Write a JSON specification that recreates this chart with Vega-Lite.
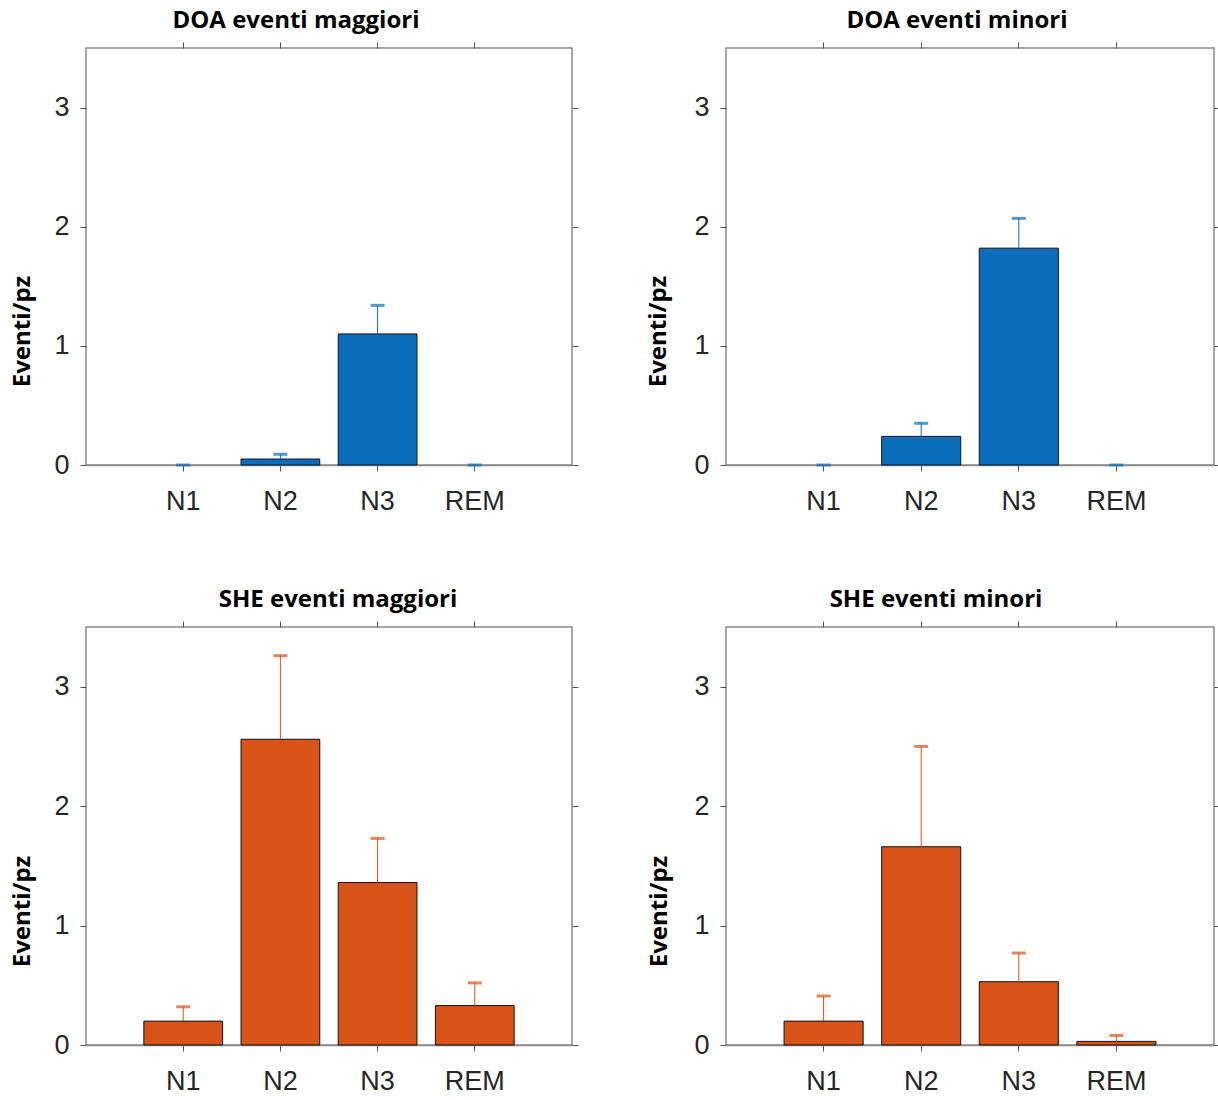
{
  "$schema": "https://vega.github.io/schema/vega-lite/v6.json",
  "background": "white",
  "padding": {"left": 9, "top": 7, "right": 0, "bottom": 0},
  "bounds": "flush",
  "spacing": {"row": 162, "column": 154},
  "columns": 2,
  "data": {
    "values": [
      {"panel": "DOA eventi maggiori", "group": "DOA", "stage": "N1", "mean": 0.0, "upper": 0.0},
      {"panel": "DOA eventi maggiori", "group": "DOA", "stage": "N2", "mean": 0.05, "upper": 0.09},
      {"panel": "DOA eventi maggiori", "group": "DOA", "stage": "N3", "mean": 1.10, "upper": 1.34},
      {"panel": "DOA eventi maggiori", "group": "DOA", "stage": "REM", "mean": 0.0, "upper": 0.0},
      {"panel": "DOA eventi minori", "group": "DOA", "stage": "N1", "mean": 0.0, "upper": 0.0},
      {"panel": "DOA eventi minori", "group": "DOA", "stage": "N2", "mean": 0.24, "upper": 0.35},
      {"panel": "DOA eventi minori", "group": "DOA", "stage": "N3", "mean": 1.82, "upper": 2.07},
      {"panel": "DOA eventi minori", "group": "DOA", "stage": "REM", "mean": 0.0, "upper": 0.0},
      {"panel": "SHE eventi maggiori", "group": "SHE", "stage": "N1", "mean": 0.20, "upper": 0.32},
      {"panel": "SHE eventi maggiori", "group": "SHE", "stage": "N2", "mean": 2.56, "upper": 3.26},
      {"panel": "SHE eventi maggiori", "group": "SHE", "stage": "N3", "mean": 1.36, "upper": 1.73},
      {"panel": "SHE eventi maggiori", "group": "SHE", "stage": "REM", "mean": 0.33, "upper": 0.52},
      {"panel": "SHE eventi minori", "group": "SHE", "stage": "N1", "mean": 0.20, "upper": 0.41},
      {"panel": "SHE eventi minori", "group": "SHE", "stage": "N2", "mean": 1.66, "upper": 2.50},
      {"panel": "SHE eventi minori", "group": "SHE", "stage": "N3", "mean": 0.53, "upper": 0.77},
      {"panel": "SHE eventi minori", "group": "SHE", "stage": "REM", "mean": 0.03, "upper": 0.08}
    ]
  },
  "config": {
    "view": {"stroke": "#8a8a8a", "strokeWidth": 1.5},
    "title": {"font": "Open Sans", "fontWeight": "bold", "fontSize": 24, "color": "#000000", "offset": 9, "anchor": "middle"},
    "axis": {
      "domainColor": "#8a8a8a", "domainWidth": 1.5, "tickColor": "#555555", "tickSize": 6, "grid": false,
      "labelFont": "Liberation Sans", "labelFontSize": 27, "labelColor": "#262626",
      "titleFont": "Open Sans", "titleFontWeight": "bold", "titleFontSize": 24, "titleColor": "#000000"
    }
  },
  "concat": [
    {
      "title": {"text": "DOA eventi maggiori", "dx": -33},
      "width": 486, "height": 417,
      "transform": [{"filter": "datum.panel === 'DOA eventi maggiori'"}],
      "resolve": {"axis": {"x": "independent", "y": "independent"}},
      "layer": [
        {"mark": {"type": "bar", "stroke": "#111111", "strokeWidth": 1},
         "transform": [{"filter": "datum.mean > 0"}],
         "encoding": {
           "x": {"field": "stage", "type": "nominal", "scale": {"domain": ["N1", "N2", "N3", "REM"], "paddingInner": 0.19, "paddingOuter": 0.595},
                 "axis": {"orient": "bottom", "title": null, "labelAngle": 0, "labelPadding": 17}},
           "y": {"field": "mean", "type": "quantitative", "scale": {"domain": [0, 3.5], "nice": false},
                 "axis": {"orient": "left", "values": [0, 1, 2, 3], "title": "Eventi/pz", "domain": false, "labelPadding": 11, "titleX": -64, "titleY": 283, "titleBaseline": "middle", "titleAnchor": "middle"}},
           "color": {"field": "group", "type": "nominal", "scale": {"domain": ["DOA", "SHE"], "range": ["#0a6ebd", "#d95319"]}, "legend": null}
         }},
        {"mark": {"type": "rule", "strokeWidth": 1},
         "encoding": {
           "x": {"field": "stage", "type": "nominal", "axis": {"orient": "top", "title": null, "labels": false, "domain": false}},
           "y": {"field": "mean", "type": "quantitative", "axis": {"orient": "right", "values": [0, 1, 2, 3], "title": null, "labels": false, "domain": false}},
           "y2": {"field": "upper"},
           "color": {"field": "group", "type": "nominal", "legend": null}
         }},
        {"mark": {"type": "tick", "size": 14, "thickness": 3},
         "encoding": {
           "x": {"field": "stage", "type": "nominal", "axis": null},
           "y": {"field": "upper", "type": "quantitative", "axis": null},
           "color": {"field": "group", "type": "nominal", "legend": null}
         }}
      ]
    },
    {
      "title": {"text": "DOA eventi minori", "dx": -13},
      "width": 488, "height": 417,
      "transform": [{"filter": "datum.panel === 'DOA eventi minori'"}],
      "resolve": {"axis": {"x": "independent", "y": "independent"}},
      "layer": [
        {"mark": {"type": "bar", "stroke": "#111111", "strokeWidth": 1},
         "transform": [{"filter": "datum.mean > 0"}],
         "encoding": {
           "x": {"field": "stage", "type": "nominal", "scale": {"domain": ["N1", "N2", "N3", "REM"], "paddingInner": 0.19, "paddingOuter": 0.595},
                 "axis": {"orient": "bottom", "title": null, "labelAngle": 0, "labelPadding": 17}},
           "y": {"field": "mean", "type": "quantitative", "scale": {"domain": [0, 3.5], "nice": false},
                 "axis": {"orient": "left", "values": [0, 1, 2, 3], "title": "Eventi/pz", "domain": false, "labelPadding": 11, "titleX": -68, "titleY": 283, "titleBaseline": "middle", "titleAnchor": "middle"}},
           "color": {"field": "group", "type": "nominal", "scale": {"domain": ["DOA", "SHE"], "range": ["#0a6ebd", "#d95319"]}, "legend": null}
         }},
        {"mark": {"type": "rule", "strokeWidth": 1},
         "encoding": {
           "x": {"field": "stage", "type": "nominal", "axis": {"orient": "top", "title": null, "labels": false, "domain": false}},
           "y": {"field": "mean", "type": "quantitative", "axis": {"orient": "right", "values": [0, 1, 2, 3], "title": null, "labels": false, "domain": false}},
           "y2": {"field": "upper"},
           "color": {"field": "group", "type": "nominal", "legend": null}
         }},
        {"mark": {"type": "tick", "size": 14, "thickness": 3},
         "encoding": {
           "x": {"field": "stage", "type": "nominal", "axis": null},
           "y": {"field": "upper", "type": "quantitative", "axis": null},
           "color": {"field": "group", "type": "nominal", "legend": null}
         }}
      ]
    },
    {
      "title": {"text": "SHE eventi maggiori", "dx": 9},
      "width": 486, "height": 418,
      "transform": [{"filter": "datum.panel === 'SHE eventi maggiori'"}],
      "resolve": {"axis": {"x": "independent", "y": "independent"}},
      "layer": [
        {"mark": {"type": "bar", "stroke": "#111111", "strokeWidth": 1},
         "transform": [{"filter": "datum.mean > 0"}],
         "encoding": {
           "x": {"field": "stage", "type": "nominal", "scale": {"domain": ["N1", "N2", "N3", "REM"], "paddingInner": 0.19, "paddingOuter": 0.595},
                 "axis": {"orient": "bottom", "title": null, "labelAngle": 0, "labelPadding": 17}},
           "y": {"field": "mean", "type": "quantitative", "scale": {"domain": [0, 3.5], "nice": false},
                 "axis": {"orient": "left", "values": [0, 1, 2, 3], "title": "Eventi/pz", "domain": false, "labelPadding": 11, "titleX": -64, "titleY": 284, "titleBaseline": "middle", "titleAnchor": "middle"}},
           "color": {"field": "group", "type": "nominal", "scale": {"domain": ["DOA", "SHE"], "range": ["#0a6ebd", "#d95319"]}, "legend": null}
         }},
        {"mark": {"type": "rule", "strokeWidth": 1},
         "encoding": {
           "x": {"field": "stage", "type": "nominal", "axis": {"orient": "top", "title": null, "labels": false, "domain": false}},
           "y": {"field": "mean", "type": "quantitative", "axis": {"orient": "right", "values": [0, 1, 2, 3], "title": null, "labels": false, "domain": false}},
           "y2": {"field": "upper"},
           "color": {"field": "group", "type": "nominal", "legend": null}
         }},
        {"mark": {"type": "tick", "size": 14, "thickness": 3},
         "encoding": {
           "x": {"field": "stage", "type": "nominal", "axis": null},
           "y": {"field": "upper", "type": "quantitative", "axis": null},
           "color": {"field": "group", "type": "nominal", "legend": null}
         }}
      ]
    },
    {
      "title": {"text": "SHE eventi minori", "dx": -34},
      "width": 488, "height": 418,
      "transform": [{"filter": "datum.panel === 'SHE eventi minori'"}],
      "resolve": {"axis": {"x": "independent", "y": "independent"}},
      "layer": [
        {"mark": {"type": "bar", "stroke": "#111111", "strokeWidth": 1},
         "transform": [{"filter": "datum.mean > 0"}],
         "encoding": {
           "x": {"field": "stage", "type": "nominal", "scale": {"domain": ["N1", "N2", "N3", "REM"], "paddingInner": 0.19, "paddingOuter": 0.595},
                 "axis": {"orient": "bottom", "title": null, "labelAngle": 0, "labelPadding": 17}},
           "y": {"field": "mean", "type": "quantitative", "scale": {"domain": [0, 3.5], "nice": false},
                 "axis": {"orient": "left", "values": [0, 1, 2, 3], "title": "Eventi/pz", "domain": false, "labelPadding": 11, "titleX": -67, "titleY": 284, "titleBaseline": "middle", "titleAnchor": "middle"}},
           "color": {"field": "group", "type": "nominal", "scale": {"domain": ["DOA", "SHE"], "range": ["#0a6ebd", "#d95319"]}, "legend": null}
         }},
        {"mark": {"type": "rule", "strokeWidth": 1},
         "encoding": {
           "x": {"field": "stage", "type": "nominal", "axis": {"orient": "top", "title": null, "labels": false, "domain": false}},
           "y": {"field": "mean", "type": "quantitative", "axis": {"orient": "right", "values": [0, 1, 2, 3], "title": null, "labels": false, "domain": false}},
           "y2": {"field": "upper"},
           "color": {"field": "group", "type": "nominal", "legend": null}
         }},
        {"mark": {"type": "tick", "size": 14, "thickness": 3},
         "encoding": {
           "x": {"field": "stage", "type": "nominal", "axis": null},
           "y": {"field": "upper", "type": "quantitative", "axis": null},
           "color": {"field": "group", "type": "nominal", "legend": null}
         }}
      ]
    }
  ]
}
